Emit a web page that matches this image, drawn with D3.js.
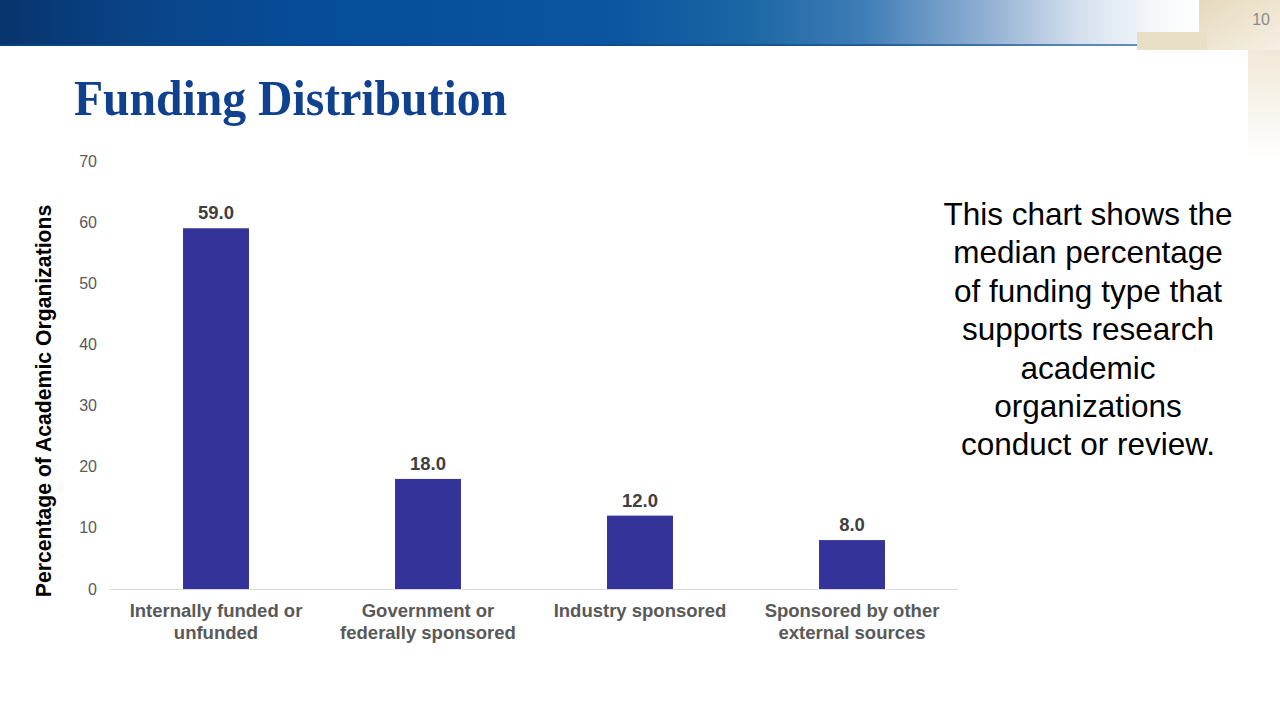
<!DOCTYPE html>
<html><head><meta charset="utf-8">
<script src="https://cdn.jsdelivr.net/npm/d3@7"></script>
<style>body{margin:0;background:#fff}svg{display:block}</style>
</head><body>
<svg id="c" width="1280" height="720"></svg>
<script>
const categories = [["Internally funded or","unfunded"],["Government or","federally sponsored"],["Industry sponsored"],["Sponsored by other","external sources"]];
const values = [59.0, 18.0, 12.0, 8.0];
const yTicks = [0,10,20,30,40,50,60,70];
const titleText = "Funding Distribution";
const yAxisTitle = "Percentage of Academic Organizations";
const noteLines = ["This chart shows the","median percentage","of funding type that","supports research","academic","organizations","conduct or review."];
const pageNumber = "10";

const svg = d3.select("#c");
const defs = svg.append("defs");
const g1 = defs.append("linearGradient").attr("id","ban").attr("x1","0").attr("x2","1").attr("y1","0").attr("y2","0");
[[0,"#07346c"],[0.12,"#0a4488"],[0.25,"#064c98"],[0.5,"#0a54a0"],[0.62,"#1a66a4"],[0.72,"#3f7db6"],[0.82,"#8fafd2"],[0.9,"#d4e0ee"],[0.96,"#f4f7fb"],[1,"#ffffff"]]
  .forEach(s=>g1.append("stop").attr("offset",s[0]).attr("stop-color",s[1]));
const g2 = defs.append("linearGradient").attr("id","beige").attr("x1","0").attr("x2","1").attr("y1","0").attr("y2","1");
[[0,"#e6d9bc"],[1,"#f6f0e4"]].forEach(s=>g2.append("stop").attr("offset",s[0]).attr("stop-color",s[1]));
const g3 = defs.append("linearGradient").attr("id","fade").attr("x1","0").attr("x2","0").attr("y1","0").attr("y2","1");
[[0,"#f1e9d8",1],[1,"#ffffff",1]].forEach(s=>g3.append("stop").attr("offset",s[0]).attr("stop-color",s[1]));

// header
svg.append("rect").attr("x",0).attr("y",0).attr("width",1200).attr("height",46).attr("fill","url(#ban)");
svg.append("rect").attr("x",0).attr("y",44).attr("width",1137).attr("height",2).attr("fill","#0b4a8a").attr("opacity",0.6);
svg.append("rect").attr("x",1199).attr("y",0).attr("width",81).attr("height",50).attr("fill","url(#beige)");
svg.append("rect").attr("x",1137).attr("y",32).attr("width",70).attr("height",18).attr("fill","#e9dec6");
svg.append("rect").attr("x",1248).attr("y",50).attr("width",32).attr("height",110).attr("fill","url(#fade)");
svg.append("text").attr("x",1270).attr("y",25).attr("text-anchor","end").attr("font-family","Liberation Sans, Arial, sans-serif")
  .attr("font-size",16).attr("fill","#8c8c8c").text(pageNumber);

// title
svg.append("text").attr("x",74).attr("y",115).attr("font-family","Liberation Serif, Times New Roman, serif")
  .attr("font-weight","bold").attr("font-size",50).attr("fill","#0f418f")
  .attr("textLength",433).attr("lengthAdjust","spacingAndGlyphs").text(titleText);

// chart
const x = d3.scaleBand().domain(d3.range(values.length)).range([110,958]).paddingInner(0.689).paddingOuter(0.3445);
const y = d3.scaleLinear().domain([0,70]).range([589,161]);

svg.append("line").attr("x1",110).attr("x2",958).attr("y1",y(0)+0.5).attr("y2",y(0)+0.5).attr("stroke","#d9d9d9").attr("stroke-width",1);

const yAxis = svg.append("g").attr("transform","translate(97,0)")
  .call(d3.axisLeft(y).tickValues(yTicks).tickSize(0).tickPadding(0));
yAxis.select(".domain").remove();
yAxis.selectAll("text").attr("font-family","Liberation Sans, Arial, sans-serif").attr("font-size",16).attr("fill","#595959");

svg.append("g").selectAll("rect").data(values).join("rect")
  .attr("x",(d,i)=>x(i)).attr("width",x.bandwidth())
  .attr("y",d=>y(d)).attr("height",d=>y(0)-y(d)).attr("fill","#333399");

svg.append("g").selectAll("text").data(values).join("text")
  .attr("x",(d,i)=>x(i)+x.bandwidth()/2).attr("y",d=>y(d)-9)
  .attr("text-anchor","middle").attr("font-family","Liberation Sans, Arial, sans-serif")
  .attr("font-weight","bold").attr("font-size",18.5).attr("fill","#404040").text(d=>d.toFixed(1));

const cat = svg.append("g").selectAll("text").data(categories).join("text")
  .attr("x",(d,i)=>x(i)+x.bandwidth()/2).attr("y",617)
  .attr("text-anchor","middle").attr("font-family","Liberation Sans, Arial, sans-serif")
  .attr("font-weight","bold").attr("font-size",18.5).attr("fill","#595959");
cat.selectAll("tspan").data(d=>d).join("tspan")
  .attr("x",function(){return this.parentNode.getAttribute("x");})
  .attr("dy",(d,i)=>i===0?0:21.5).text(d=>d);

svg.append("text").attr("transform","translate(51,401) rotate(-90)").attr("text-anchor","middle")
  .attr("font-family","Liberation Sans, Arial, sans-serif").attr("font-weight","bold").attr("font-size",21.2)
  .attr("fill","#000").text(yAxisTitle);

// note
svg.append("g").selectAll("text").data(noteLines).join("text")
  .attr("x",1088).attr("y",(d,i)=>225+i*38.4).attr("text-anchor","middle")
  .attr("font-family","Liberation Sans, Arial, sans-serif").attr("font-size",31.5).attr("fill","#000").text(d=>d);
</script>
</body></html>
